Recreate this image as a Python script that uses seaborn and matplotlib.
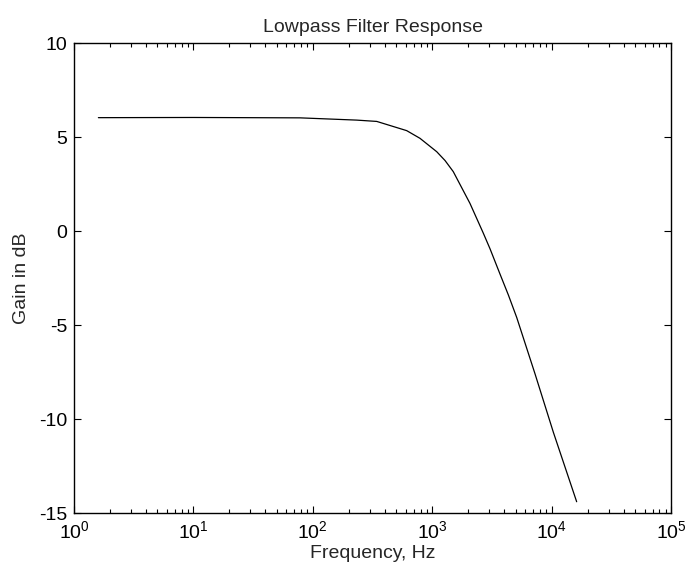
import numpy as np
import pandas as pd
import matplotlib
matplotlib.use("Agg")
import matplotlib.pyplot as plt
import seaborn as sns
from matplotlib.ticker import LogLocator, LogFormatterMathtext, NullFormatter

# values
freq_hz = [1.6, 10, 78, 233, 343, 611, 790, 1090, 1280, 1500, 2070, 2680,
           3050, 3700, 4340, 5100, 7260, 10330, 16200]
gain_db = [6.03, 6.04, 6.02, 5.9, 5.83, 5.34, 4.93, 4.22, 3.75, 3.16, 1.47,
           -0.12, -0.95, -2.3, -3.4, -4.6, -7.6, -10.7, -14.4]

y_ticks = [-15, -10, -5, 0, 5, 10]

df = pd.DataFrame({"Frequency": freq_hz, "Gain": gain_db})

sns.set_style("ticks")
plt.rcParams["font.family"] = ["Liberation Sans", "DejaVu Sans"]
plt.rcParams["mathtext.fontset"] = "custom"
plt.rcParams["mathtext.rm"] = "Liberation Sans"
plt.rcParams["mathtext.it"] = "Liberation Sans"
plt.rcParams["mathtext.default"] = "regular"
plt.rcParams["axes.unicode_minus"] = False

fig = plt.figure(figsize=(6.86, 5.73), dpi=100)
ax = fig.add_axes([0.1079, 0.1047, 0.8703, 0.8202])

sns.lineplot(data=df, x="Frequency", y="Gain", ax=ax, color="black",
             linewidth=0.9, estimator=None, sort=False)

ax.set_xscale("log")
ax.set_xlim(1, 1e5)
ax.set_ylim(-15, 10)
ax.set_yticks(y_ticks)
ax.xaxis.set_major_locator(LogLocator(base=10, numticks=10))
ax.xaxis.set_major_formatter(LogFormatterMathtext())
ax.xaxis.set_minor_locator(LogLocator(base=10, subs=np.arange(2, 10), numticks=20))
ax.xaxis.set_minor_formatter(NullFormatter())

for side in ["top", "right", "left", "bottom"]:
    ax.spines[side].set_visible(True)
    ax.spines[side].set_linewidth(1.0)
    ax.spines[side].set_color("black")

ax.tick_params(which="both", direction="in", top=True, right=True,
               labelsize=14, colors="black", width=0.8)
ax.tick_params(which="major", length=5, pad=5)
ax.tick_params(which="minor", length=3)

ax.set_title("Lowpass Filter Response", fontsize=14, pad=8)
ax.set_xlabel("Frequency, Hz", fontsize=14, labelpad=2)
ax.set_ylabel("Gain in dB", fontsize=14, labelpad=6)

fig.savefig("out.png", dpi=100)
